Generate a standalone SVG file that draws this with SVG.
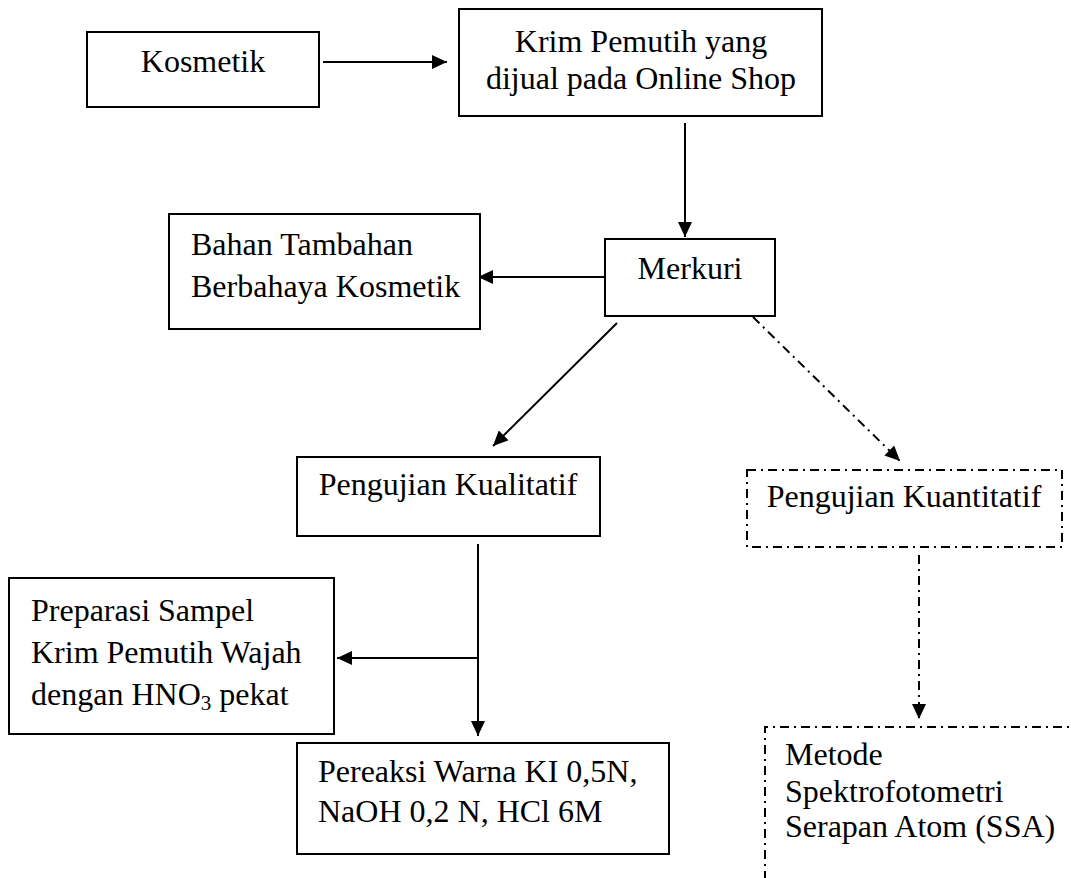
<svg xmlns="http://www.w3.org/2000/svg" width="1071" height="878" viewBox="0 0 1071 878">
<style>
.box{fill:#fff;stroke:#000;stroke-width:2}
.dbox{fill:none;stroke:#000;stroke-width:2;stroke-dasharray:9 5 2 5}
.t{font-family:"Liberation Serif","Times New Roman",serif;font-size:32px;fill:#000}
.c{text-anchor:middle}
.ln{stroke:#000;stroke-width:2;fill:none;marker-end:url(#ah)}
.dl{stroke:#000;stroke-width:2;fill:none;stroke-dasharray:9 5 2 5;marker-end:url(#ah)}
</style>
<defs>
<marker id="ah" viewBox="0 0 15 14" refX="15" refY="7" markerWidth="15" markerHeight="14" markerUnits="userSpaceOnUse" orient="auto">
<path d="M0,0 L15,7 L0,14 z" fill="#000"/>
</marker>
</defs>
<rect width="1071" height="878" fill="#fff"/>
<g id="connectors">
<line class="ln" x1="323" y1="62" x2="447" y2="62"/>
<line class="ln" x1="685" y1="123" x2="685" y2="237"/>
<line class="ln" x1="605" y1="277" x2="478" y2="277"/>
<line class="ln" x1="617" y1="323" x2="493" y2="446"/>
<line class="dl" x1="753" y1="317" x2="900" y2="461"/>
<line class="ln" x1="478" y1="544" x2="478" y2="736"/>
<line class="ln" x1="478" y1="658" x2="337" y2="658"/>
<line class="dl" x1="919" y1="555" x2="919" y2="719"/>
</g>
<g id="kosmetik">
<rect class="box" x="87" y="32" width="232" height="75"/>
<text class="t c" x="203" y="72">Kosmetik</text>
</g>
<g id="krim">
<rect class="box" x="459" y="9" width="363" height="107"/>
<text class="t c" x="641" y="52">Krim Pemutih yang</text>
<text class="t c" x="641" y="89">dijual pada Online Shop</text>
</g>
<g id="merkuri">
<rect class="box" x="605" y="239" width="170" height="77"/>
<text class="t c" x="690" y="279">Merkuri</text>
</g>
<g id="bahan">
<rect class="box" x="169" y="214" width="311" height="115"/>
<text class="t" x="191" y="255">Bahan Tambahan</text>
<text class="t" x="191" y="297">Berbahaya Kosmetik</text>
</g>
<g id="kualitatif">
<rect class="box" x="297" y="457" width="303" height="79"/>
<text class="t c" x="448" y="495">Pengujian Kualitatif</text>
</g>
<g id="kuantitatif">
<rect class="dbox" x="747" y="470" width="315" height="77"/>
<text class="t c" x="904" y="507">Pengujian Kuantitatif</text>
</g>
<g id="preparasi">
<rect class="box" x="9" y="578" width="325" height="156"/>
<text class="t" x="31" y="621">Preparasi Sampel</text>
<text class="t" x="31" y="663">Krim Pemutih Wajah</text>
<text class="t" x="31" y="705">dengan HNO<tspan font-size="21" dy="5">3</tspan><tspan dy="-5"> pekat</tspan></text>
</g>
<g id="pereaksi">
<rect class="box" x="297" y="743" width="372" height="111"/>
<text class="t" x="318" y="782">Pereaksi Warna KI 0,5N,</text>
<text class="t" x="318" y="822">NaOH 0,2 N, HCl 6M</text>
</g>
<g id="metode">
<path class="dbox" d="M765,880 L765,727 L1075,727"/>
<text class="t" x="785" y="765">Metode</text>
<text class="t" x="785" y="802">Spektrofotometri</text>
<text class="t" x="785" y="837">Serapan Atom (SSA)</text>
</g>
</svg>
